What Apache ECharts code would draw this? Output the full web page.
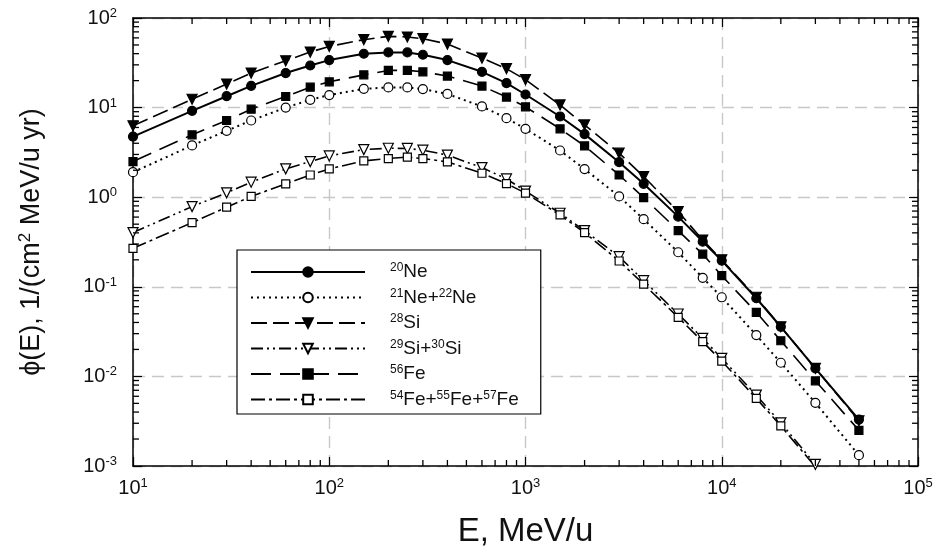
<!DOCTYPE html>
<html>
<head>
<meta charset="utf-8">
<script src="https://cdn.jsdelivr.net/npm/echarts@6/dist/echarts.min.js"></script>
<style>
  html, body { margin: 0; padding: 0; background: #fff; }
  #chart { width: 938px; height: 546px; }
</style>
</head>
<body>
<div id="chart"></div>
<script>
// energies, MeV/u
const energy = [10, 20, 30, 40, 60, 80, 100, 150, 200, 250, 300, 400, 600, 800,
  1000, 1500, 2000, 3000, 4000, 6000, 8000, 10000, 15000, 20000, 30000, 50000];

const ne20 = [4.75, 9.2, 13.4, 17.5, 24.3, 29.5, 33.9, 39.9, 41.3, 41.3, 38.9, 33.9, 25.1, 18.8,
  14.0, 7.96, 5.06, 2.46, 1.41, 0.607, 0.319, 0.196, 0.0745, 0.0358, 0.0123, 0.0033];
const ne2122 = [1.9, 3.78, 5.51, 7.18, 10.0, 12.2, 13.8, 16.2, 16.8, 16.8, 16.1, 14.2, 10.3, 7.63,
  5.8, 3.32, 2.06, 1.02, 0.568, 0.243, 0.126, 0.0764, 0.0289, 0.0142, 0.00507, 0.00132];
const si28 = [6.26, 12.4, 18.3, 24.3, 33.3, 41.7, 48.2, 57.3, 62.4, 61.4, 58.8, 51.2, 35.7, 27.2,
  20.5, 10.7, 6.41, 3.1, 1.7, 0.69, 0.333, 0.2, 0.0764, 0.0358, 0.0123, 0.0032];
const si2930 = [0.403, 0.785, 1.12, 1.47, 2.07, 2.5, 2.89, 3.4, 3.52, 3.5, 3.35, 2.95, 2.14, 1.6,
  1.17, 0.662, 0.424, 0.217, 0.117, 0.0497, 0.0266, 0.0159, 0.00618, 0.00303, 0.00104];
const fe56 = [2.5, 4.97, 7.18, 9.6, 13.3, 16.9, 19.4, 23.2, 26.0, 26.0, 25.1, 22.5, 17.4, 13.1,
  10.2, 5.8, 3.74, 1.77, 0.99, 0.424, 0.231, 0.133, 0.0519, 0.025, 0.00893, 0.0025];
const fe545557 = [0.269, 0.52, 0.773, 1.02, 1.41, 1.77, 2.07, 2.54, 2.7, 2.8, 2.7, 2.48, 1.85, 1.42,
  1.11, 0.634, 0.403, 0.194, 0.107, 0.0456, 0.0244, 0.0148, 0.00568, 0.0028, 0.00098];

const seriesNames = ['20Ne', '21Ne+22Ne', '28Si', '29Si+30Si', '56Fe', '54Fe+55Fe+57Fe'];

// tick positions
const xRange = [10, 100000];
const yRange = [0.001, 100];
const minorMult = [2, 3, 4, 5, 6, 7, 8, 9];
const xDecades = [10, 100, 1000, 10000];
const yDecades = [0.001, 0.01, 0.1, 1, 10];

const FONT = 'Liberation Sans, Arial, sans-serif';
const INK = '#111';

const xMinor = [];
xDecades.forEach(d => minorMult.forEach(m => xMinor.push(d * m)));
const yMinor = [];
yDecades.forEach(d => minorMult.forEach(m => yMinor.push(+(d * m).toPrecision(3))));

function pairs(ys) {
  return ys.map((y, i) => [energy[i], y]);
}

function powLabel(v) {
  return '{b|10}{s|' + Math.round(Math.log10(v)) + '}';
}

const powRich = {
  b: { fontSize: 20, lineHeight: 22, fontFamily: FONT, color: INK },
  s: { fontSize: 13, lineHeight: 13, fontFamily: FONT, color: INK, verticalAlign: 'top' }
};

function legendLabel(name) {
  return name.split(/(\d+)/).filter(p => p !== '').map(p =>
    /^\d+$/.test(p) ? '{s|' + p + '}' : '{t|' + p + '}').join('');
}

const downTri = 'path://M0,0 L10,0 L5,9 Z';

function mkLine(name, data, dash, symbol, size, filled, width) {
  return {
    name: name,
    type: 'line',
    data: pairs(data),
    symbol: symbol,
    symbolSize: size,
    showAllSymbol: true,
    clip: true,
    z: 3,
    lineStyle: { color: '#000', width: width || 1.6, type: dash },
    itemStyle: { color: filled ? '#000' : '#fff', borderColor: '#000', borderWidth: 1.2 }
  };
}

const gridDash = { color: '#c8c8c8', type: [12, 7], width: 1.4 };
const frame = { show: true, lineStyle: { color: '#000', width: 1.5 } };
const majorTick = { inside: true, length: 9, lineStyle: { color: '#000', width: 1.2 } };

const chart = echarts.init(document.getElementById('chart'), null, { renderer: 'canvas' });

chart.setOption({
  backgroundColor: '#fff',
  animation: false,
  grid: { left: 133, top: 18, right: 20, bottom: 80, outerBoundsMode: 'none' },
  xAxis: [{
    type: 'log', logBase: 10, min: xRange[0], max: xRange[1],
    axisLine: frame, axisTick: majorTick,
    splitLine: { show: true, lineStyle: gridDash },
    axisLabel: { formatter: powLabel, rich: powRich, margin: 11 },
    name: 'E, MeV/u', nameLocation: 'middle', nameGap: 49,
    nameTextStyle: { fontSize: 33, fontFamily: FONT, color: INK }
  }, {
    type: 'log', logBase: 10, min: xRange[0], max: xRange[1], position: 'top',
    axisLine: frame, axisTick: majorTick,
    splitLine: { show: false }, axisLabel: { show: false }
  }],
  yAxis: [{
    type: 'log', logBase: 10, min: yRange[0], max: yRange[1],
    axisLine: frame, axisTick: majorTick,
    splitLine: { show: true, lineStyle: gridDash },
    axisLabel: { formatter: powLabel, rich: powRich, margin: 16 },
    name: '{a|ϕ(E), 1/(cm}{s|2}{a| MeV/u yr)}', nameLocation: 'middle', nameGap: 86,
    nameTextStyle: {
      rich: {
        a: { fontSize: 27, lineHeight: 30, fontFamily: FONT, color: INK },
        s: { fontSize: 17, lineHeight: 17, fontFamily: FONT, color: INK, verticalAlign: 'top' }
      }
    }
  }, {
    type: 'log', logBase: 10, min: yRange[0], max: yRange[1], position: 'right',
    axisLine: frame, axisTick: majorTick,
    splitLine: { show: false }, axisLabel: { show: false }
  }],
  legend: {
    data: seriesNames,
    orient: 'vertical',
    left: 237, top: 250,
    padding: [12, 22, 5, 13],
    itemWidth: 114, itemHeight: 12, itemGap: 6,
    backgroundColor: '#fff',
    borderColor: '#000', borderWidth: 1.2,
    formatter: legendLabel,
    textStyle: {
      padding: [0, 0, 0, 20],
      rich: {
        t: { fontSize: 19, lineHeight: 20, fontFamily: FONT, color: INK },
        s: { fontSize: 12, lineHeight: 12, fontFamily: FONT, color: INK, verticalAlign: 'top' }
      }
    }
  },
  series: [
    mkLine(seriesNames[0], ne20, 'solid', 'circle', 9, true, 2),
    mkLine(seriesNames[1], ne2122, [2, 4], 'circle', 9, false, 2),
    mkLine(seriesNames[2], si28, [16, 6], downTri, 10, true, 1.6),
    mkLine(seriesNames[3], si2930, [12, 4, 2, 4, 2, 4], downTri, 10, false, 1.6),
    mkLine(seriesNames[4], fe56, [20, 9], 'rect', 8, true, 1.6),
    mkLine(seriesNames[5], fe545557, [14, 4, 3, 4], 'rect', 8, false, 1.6)
  ]
});

// minor ticks on all four sides, placed through the chart's own scales
function px(x, y) {
  return chart.convertToPixel({ xAxisIndex: 0, yAxisIndex: 0 }, [x, y]);
}
function tick(x1, y1, x2, y2) {
  return { type: 'line', silent: true, z: 10,
    style: { stroke: '#000', lineWidth: 1.3 },
    shape: { x1: x1, y1: y1, x2: x2, y2: y2 } };
}
const minorTicks = [];
xMinor.forEach(v => {
  const lo = px(v, yRange[0]);
  const hi = px(v, yRange[1]);
  minorTicks.push(tick(lo[0], lo[1], lo[0], lo[1] - 6));
  minorTicks.push(tick(hi[0], hi[1], hi[0], hi[1] + 6));
});
yMinor.forEach(v => {
  const l = px(xRange[0], v);
  const r = px(xRange[1], v);
  minorTicks.push(tick(l[0], l[1], l[0] + 6, l[1]));
  minorTicks.push(tick(r[0], r[1], r[0] - 6, r[1]));
});
chart.setOption({ graphic: minorTicks });
</script>
</body>
</html>
